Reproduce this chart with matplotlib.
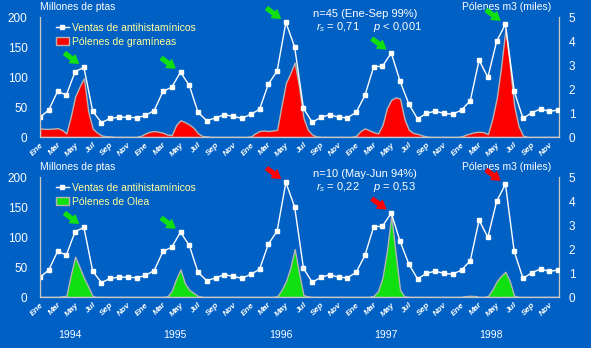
import numpy as np
import matplotlib.pyplot as plt
from matplotlib.lines import Line2D
from matplotlib.patches import Patch

plt.rcParams['font.family'] = ['Liberation Sans', 'DejaVu Sans']
plt.rcParams['mathtext.fontset'] = 'custom'
plt.rcParams['mathtext.rm'] = 'Liberation Sans'
plt.rcParams['mathtext.it'] = 'Liberation Sans:italic'

# monthly antihistamine sales, Ene 1994 .. Dic 1998 (millones de ptas)
sales = [33, 45, 76, 70, 109, 116, 43, 24, 31, 33, 33, 32,
         36, 44, 76, 83, 108, 86, 41, 27, 32, 37, 34.5, 31,
         38, 46, 88, 110, 191, 150, 48, 24.5, 33, 37, 33, 32,
         41, 69.5, 117, 118, 140, 93, 55, 30, 39.5, 43, 39.5, 38,
         45, 60.5, 128, 99.5, 159.5, 188, 76, 31, 40.5, 46.7, 42.7, 45]

# pollen counts, half-month steps (miles por m3)
grass_1994 = [0.36, 0.34, 0.34, 0.35, 0.37, 0.30, 0.15, 0.85, 1.68, 2.10, 2.45, 1.05,
              0.35, 0.18, 0.07, 0.03, 0.02, 0, 0, 0, 0, 0, 0, 0.05]
grass_1995 = [0.15, 0.22, 0.25, 0.22, 0.18, 0.10, 0.08, 0.50, 0.70, 0.62, 0.52, 0.38,
              0.15, 0.04, 0.02, 0, 0, 0, 0, 0, 0, 0, 0, 0]
grass_1996 = [0.02, 0.15, 0.25, 0.27, 0.25, 0.27, 0.30, 1.30, 2.25, 2.65, 3.10, 2.10,
              0.80, 0.30, 0.10, 0.02, 0, 0, 0, 0, 0, 0, 0, 0]
grass_1997 = [0.05, 0.25, 0.36, 0.28, 0.20, 0.15, 0.50, 1.20, 1.55, 1.65, 1.60, 0.75,
              0.30, 0.17, 0.13, 0.07, 0.02, 0, 0, 0, 0, 0, 0, 0]
grass_1998 = [0.02, 0.10, 0.15, 0.20, 0.22, 0.20, 0.12, 0.75, 1.60, 2.90, 4.50, 3.00,
              1.30, 0.45, 0.06, 0, 0, 0, 0, 0, 0, 0, 0, 0]

olea_1994 = [0, 0, 0, 0, 0, 0.02, 0.05, 0.90, 1.68, 1.25, 0.80, 0.43,
             0.03, 0, 0, 0, 0, 0, 0, 0, 0, 0, 0, 0]
olea_1995 = [0, 0, 0, 0, 0, 0.02, 0.25, 0.75, 1.15, 0.57, 0.30, 0.17,
             0.04, 0, 0, 0, 0, 0, 0, 0, 0, 0, 0, 0]
olea_1996 = [0, 0, 0, 0, 0, 0, 0.02, 0.29, 0.65, 1.20, 2.00, 1.00,
             0.08, 0.02, 0, 0, 0, 0, 0, 0, 0, 0, 0, 0]
olea_1997 = [0, 0, 0, 0, 0.05, 0.25, 0.80, 1.90, 3.40, 1.80, 0.30, 0.02,
             0, 0, 0, 0, 0, 0, 0, 0, 0, 0, 0, 0]
olea_1998 = [0, 0.04, 0.05, 0.04, 0, 0, 0.03, 0.30, 0.65, 0.88, 1.05, 0.65,
             0.05, 0, 0, 0, 0, 0, 0, 0, 0, 0, 0, 0]

grass = grass_1994 + grass_1995 + grass_1996 + grass_1997 + grass_1998
olea = olea_1994 + olea_1995 + olea_1996 + olea_1997 + olea_1998

month_labels = ['Ene', 'Mar', 'May', 'Jul', 'Sep', 'Nov']
years = ['1994', '1995', '1996', '1997', '1998']

BG = '#0060C4'
AXC = '#C8C8C8'
GREEN = '#10E010'
RED = '#FF0000'

t_sales = np.arange(len(sales))
t_pollen = np.arange(len(grass)) / 2

fig = plt.figure(figsize=(5.91, 3.48), dpi=100, facecolor=BG)


def panel(rect, pollen, fill_color, pollen_label, n_text, stat_text, arrow_colors):
    ax = fig.add_axes(rect)
    ax2 = ax.twinx()
    ax.set_zorder(ax2.get_zorder() + 1)
    ax.patch.set_visible(False)
    ax2.patch.set_visible(False)

    ax2.fill_between(t_pollen, pollen, facecolor=fill_color, edgecolor='#B4B4B4', lw=1)
    ax.plot(t_sales, sales, color='white', lw=1, marker='s', ms=2.7, mec='white')

    ax.set_xlim(0, 59.1)
    ax.set_ylim(0, 200)
    ax2.set_ylim(0, 5)

    for s in ['top', 'right']:
        ax.spines[s].set_visible(False)
    for s in ['top', 'left', 'bottom']:
        ax2.spines[s].set_visible(False)
    for sp in [ax.spines['left'], ax.spines['bottom'], ax2.spines['right']]:
        sp.set_color(AXC)
        sp.set_linewidth(0.9)

    ax.set_yticks([0, 50, 100, 150, 200])
    ax.tick_params(axis='y', length=0, pad=9, labelsize=8.5, labelcolor='white')
    ax2.set_yticks(range(6))
    ax2.tick_params(axis='y', length=0, pad=7, labelsize=8.5, labelcolor='white')
    ax.set_xticks(range(0, 60, 2))
    ax.set_xticklabels(month_labels * 5, rotation=45, ha='right', va='top',
                       rotation_mode='anchor', fontsize=6, fontweight='bold',
                       style='italic', color='white')
    ax.tick_params(axis='x', length=0, pad=3)

    ax.text(0, 1.083, 'Millones de ptas', transform=ax.transAxes, color='white',
            fontsize=7.5, ha='left', va='center')
    ax.text(0.9, 1.083, 'Pólenes m3 (miles)', transform=ax.transAxes, color='white',
            fontsize=7.5, ha='center', va='center')
    ax.text(0.526, 1.025, n_text, transform=ax.transAxes, color='white',
            fontsize=8, ha='left', va='center')
    ax.text(0.532, 0.915, stat_text, transform=ax.transAxes, color='white',
            fontsize=8, ha='left', va='center')

    handles = [Line2D([], [], color='white', lw=1, marker='s', ms=2.7),
               Patch(facecolor=fill_color, edgecolor='#B4B4B4')]
    ax.legend(handles, ['Ventas de antihistamínicos', pollen_label],
              loc='upper left', bbox_to_anchor=(0.03, 0.95), frameon=False,
              fontsize=7.5, labelcolor='#FFFF99', handlelength=1.3,
              handletextpad=0.3, labelspacing=0.35, borderaxespad=0, borderpad=0)

    # arrows pointing at the yearly sales peaks
    for k, c in enumerate(arrow_colors):
        yr = sales[12 * k:12 * k + 12]
        i = 12 * k + int(np.argmax(yr))
        ax.annotate('', xy=(t_sales[i], sales[i]), xytext=(-19, 14),
                    textcoords='offset pixels', annotation_clip=False,
                    arrowprops=dict(arrowstyle='simple,head_length=0.6,head_width=0.75,tail_width=0.3',
                                    color=c, shrinkA=0, shrinkB=5, mutation_scale=9))
    return ax


top = panel([40 / 591, 1 - 137 / 348, 519 / 591, 120 / 348], grass, RED,
            'Pólenes de gramíneas', 'n=45 (Ene-Sep 99%)',
            r'$r_s$ = 0,71     $p$ < 0,001', [GREEN] * 5)
bot = panel([40 / 591, 1 - 297 / 348, 519 / 591, 120 / 348], olea, GREEN,
            'Pólenes de Olea', 'n=10 (May-Jun 94%)',
            r'$r_s$ = 0,22     $p$ = 0,53', [GREEN, GREEN, RED, RED, RED])

for k, y in enumerate(years):
    bot.text(12 * k + 3.4, -0.317, y, transform=bot.get_xaxis_transform(),
             color='white', fontsize=7.5, ha='center', va='center')

fig.savefig('out.png', dpi=100, facecolor=BG)
